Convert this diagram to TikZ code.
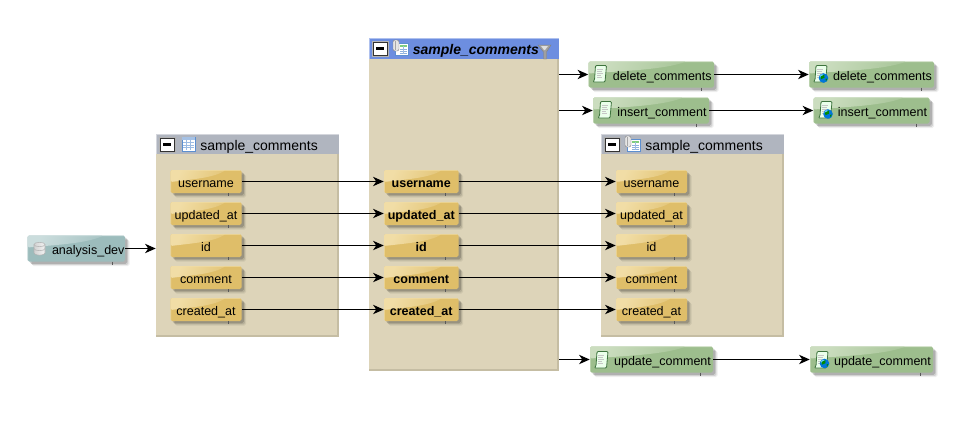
\documentclass[tikz,border=0pt]{standalone}
\usepackage{fontspec}
\setmainfont{Liberation Sans}
\usetikzlibrary{arrows.meta,shadows,calc}
\definecolor{greenc}{HTML}{9DBE8D}
\definecolor{greenl}{HTML}{CBDDBF}
\definecolor{tealc}{HTML}{9CBCBC}
\definecolor{teall}{HTML}{CBDDDD}
\definecolor{goldc}{HTML}{DFBE69}
\definecolor{goldl}{HTML}{F1DDA6}
\definecolor{tablec}{HTML}{DDD4B9}
\definecolor{tableb}{HTML}{C5BDA3}
\definecolor{headg}{HTML}{B0B5BF}
\definecolor{headb}{HTML}{6D8EE0}
\definecolor{iconb}{HTML}{5C8FD0}
\tikzset{
 softshadow/.style={
  general shadow={shadow xshift=3.4pt,shadow yshift=-3.4pt,fill=black,opacity=.07},
  general shadow={shadow xshift=2.6pt,shadow yshift=-2.6pt,fill=black,opacity=.11},
  general shadow={shadow xshift=1.7pt,shadow yshift=-1.7pt,fill=black,opacity=.16}},
 compbox/.style={rectangle,rounded corners=1.2pt,inner sep=0pt,softshadow,text height=8.7pt,text depth=0pt,font=\fontsize{9.4pt}{11pt}\selectfont,
  path picture={\shade[top color=#1l,bottom color=#1c,shading angle=65]
   (path picture bounding box.north west) -- ($(path picture bounding box.north west)!.78!(path picture bounding box.north east)$)
   .. controls ($(path picture bounding box.north west)!.6!(path picture bounding box.north east)+(0,-6pt)$) and ($(path picture bounding box.north west)!.3!(path picture bounding box.north east)+(0,-7pt)$) ..
   ($(path picture bounding box.north west)+(0,-9pt)$) -- cycle;
   \draw[#1l,line width=.9pt] (path picture bounding box.south west) -- (path picture bounding box.north west) -- (path picture bounding box.north east);},
  fill=#1c},
 tablebox/.style={rectangle,inner sep=0pt,fill=tablec},
 headbox/.style={rectangle,inner sep=0pt,text height=9.4pt,text depth=0pt,font=\fontsize{10.5pt}{12pt}\selectfont},
 conn/.style={-{Stealth[length=8pt,width=7pt,inset=2.4pt]},line width=.85pt,black},
 tick/.style={line width=.4pt,gray!70!black}
}
% name x0 y0 x1 y1 colour offset text
\newcommand{\comp}[8]{%
 \node[compbox=#6,minimum width={(#4-#2)*.75pt},minimum height={(#5-#3)*.75pt}] (#1) at ({(#2+#4)/2},{(#3+#5)/2}) {\hspace*{#7pt}#8};
 \draw[tick] ({#4-13},#5) -- ({#4-13},{#5+3});
}
\newcommand{\tabl}[9]{%
 \node[tablebox,minimum width={(#4-#2)*.75pt},minimum height={(#5-#3)*.75pt}] (#1) at ({(#2+#4)/2},{(#3+#5)/2}) {};
 \draw[tableb,line width=1.2pt] ({#4-.8},#3) -- ({#4-.8},{#5-.8}) -- (#2,{#5-.8});
 \node[headbox,fill=#6,minimum width={(#4-#2)*.75pt},minimum height={(#7)*.75pt}] (#1h) at ({(#2+#4)/2},{#3+#7/2}) {\hspace*{#8pt}#9};
 \draw[white!45!#6,line width=.8pt] ({#2+.5},{#3+#7}) -- ({#2+.5},{#3+.5}) -- (#4,{#3+.5});
}
\newcommand{\minusbox}[2]{\begin{scope}[shift={(#1,#2)}]
 \draw[gray!60,line width=.6pt,fill=white] (0,0) rectangle (16,15);
 \draw[black!80,line width=.6pt] (1,1) rectangle (15,14);
 \fill[black] (4,6.4) rectangle (12,8.6);
\end{scope}}
\newcommand{\gridicon}[2]{\begin{scope}[shift={(#1,#2)}]
 \draw[iconb,line width=.5pt,fill=white] (0,0) rectangle (13,14);
 \fill[iconb!55] (0,0) rectangle (13,3);
 \foreach \i in {5.5,8,10.5} \draw[iconb!60,line width=.4pt] (1,\i) -- (12,\i);
 \foreach \i in {4.5,8.5} \draw[iconb!60,line width=.4pt] (\i,3) -- (\i,13);
\end{scope}}
\newcommand{\viewicon}[2]{\begin{scope}[shift={(#1,#2)}]
 \begin{scope}[shift={(2,1)}]
 \draw[iconb,line width=.5pt,fill=white] (0,0) rectangle (13,12);
 \fill[green!45!gray!70] (5,2) rectangle (12,4);
 \foreach \i in {6,8,10} \draw[iconb!70,line width=.5pt] (5,\i) -- (12,\i);
 \foreach \i in {8.5} \draw[iconb!60,line width=.4pt] (\i,3) -- (\i,11);
 \end{scope}
 \draw[gray,line width=.3pt,fill=white!80!gray,rounded corners=1.5pt] (0,-2) rectangle (6,9);
 \draw[gray!70,line width=.3pt] (2,-1) -- (2,8);
\end{scope}}
\newcommand{\scrollicon}[2]{\begin{scope}[shift={(#1,#2)}]
 \draw[gray!70!green!70!black,line width=.6pt,fill=white!92!green,rounded corners=.8pt] (3,0) -- (14,0) -- (12.5,16.5) -- (0.3,16.5) -- (2,14.5) -- cycle;
 \foreach \i/\j in {4/10,6/9,8/10,10/8,12/9} \draw[gray!45,line width=.5pt] (4.3,\i) -- (\j,\i);
\end{scope}}
\newcommand{\globeicon}[2]{\begin{scope}[shift={(#1,#2)}]
 \fill[blue!45!cyan!85!black] (0,0) circle (4.8);
 \fill[blue!30!cyan!60!white] (-1.5,-1.8) circle (2);
 \fill[green!55!black] (-3,-1.5) -- (.8,-3.4) -- (1,-.3) -- (-2.5,1.2) -- cycle;
 \fill[green!55!black] (2,1) -- (3.8,.5) -- (2.6,3.2) -- cycle;
\end{scope}}
\newcommand{\dbicon}[2]{\begin{scope}[shift={(#1,#2)}]
 \shade[left color=gray!35,right color=white!90!gray,draw=gray!60,line width=.4pt] (0,2.5) -- (0,11) arc[x radius=5.5,y radius=2.2,start angle=180,end angle=0] -- (11,2.5) arc[x radius=5.5,y radius=2.2,start angle=0,end angle=-180] -- cycle;
 \draw[gray!60,line width=.4pt] (0,2.5) arc[x radius=5.5,y radius=2.2,start angle=180,end angle=0];
 \draw[gray!60,line width=.4pt] (0,6.5) arc[x radius=5.5,y radius=2.2,start angle=180,end angle=0];
\end{scope}}
\begin{document}
\begin{tikzpicture}[x=.75pt,y=-.75pt]
\useasboundingbox (0,0) rectangle (980,432);
\fill[white] (0,0) rectangle (980,432);
% tables
\tabl{tleft}{156}{134}{338.7}{336.7}{headg}{20}{17.5}{sample\_comments}
\tabl{tmid}{369}{38}{558.7}{370.7}{headb}{21}{18}{\fontsize{10.5pt}{12pt}\selectfont\bfseries\itshape sample\_comments}
\tabl{tright}{601}{134}{783.7}{336.7}{headg}{20}{17.5}{sample\_comments}
\minusbox{159}{137}\gridicon{182}{137}
\minusbox{372}{41}\viewicon{393}{42}
\minusbox{604}{137}\viewicon{625}{138}
% funnel
\fill[gray!75,draw=gray,line width=.3pt] (538,45) -- (551,45) -- (546.5,52) -- (546.5,59) -- (543.5,59) -- (543.5,52) -- cycle;
\fill[white!75!gray] (541,46) -- (548,46) -- (545,50) -- (544,50) -- cycle;
% source
\comp{src}{27.5}{235.5}{125}{261.5}{teal}{18}{analysis\_dev}
\dbicon{34}{242}
% columns
\comp{lu}{170.5}{170}{241.5}{193}{gold}{0}{username}
\comp{lv}{170.5}{202}{241.5}{225}{gold}{0}{updated\_at}
\comp{li}{170.5}{234}{241.5}{257}{gold}{0}{id}
\comp{lc}{170.5}{266}{241.5}{289}{gold}{0}{comment}
\comp{lr}{170.5}{298}{241.5}{321}{gold}{0}{created\_at}
\comp{mu}{384}{170}{458.5}{193}{gold}{0}{\bfseries username}
\comp{mv}{384}{202}{458.5}{225}{gold}{0}{\bfseries updated\_at}
\comp{mi}{384}{234}{458.5}{257}{gold}{0}{\bfseries id}
\comp{mc}{384}{266}{458.5}{289}{gold}{0}{\bfseries comment}
\comp{mr}{384}{298}{458.5}{321}{gold}{0}{\bfseries created\_at}
\comp{ru}{616}{170}{687}{193}{gold}{0}{username}
\comp{rv}{616}{202}{687}{225}{gold}{0}{updated\_at}
\comp{ri}{616}{234}{687}{257}{gold}{0}{id}
\comp{rc}{616}{266}{687}{289}{gold}{0}{comment}
\comp{rr}{616}{298}{687}{321}{gold}{0}{created\_at}
% statements
\comp{da}{588.5}{61.5}{714}{87.5}{green}{16.5}{delete\_comments}
\comp{db}{809}{61.5}{934}{87.5}{green}{16.5}{delete\_comments}
\comp{ia}{593}{97.5}{709}{123.5}{green}{16.5}{insert\_comment}
\comp{ib}{813.5}{97.5}{929.5}{123.5}{green}{16.5}{insert\_comment}
\comp{ua}{590}{346.5}{713}{372.5}{green}{16.5}{update\_comment}
\comp{ub}{810}{346.5}{933}{372.5}{green}{16.5}{update\_comment}
\scrollicon{592.5}{65.5}\scrollicon{597.5}{101.5}\scrollicon{594}{351.5}
\scrollicon{813}{65.5}\globeicon{823.5}{78}
\scrollicon{818}{101.5}\globeicon{828}{114}
\scrollicon{814}{351.5}\globeicon{824.5}{363.5}
% connectors
\draw[conn] (src.east) -- (src.east -| tleft.west);
\foreach \k in {u,v,i,c,r}{
 \draw[conn] (l\k.east) -- (m\k.west);
 \draw[conn] (m\k.east) -- (r\k.west);
}
\draw[conn] (da.west -| tmid.east) -- (da.west);
\draw[conn] (ia.west -| tmid.east) -- (ia.west);
\draw[conn] (ua.west -| tmid.east) -- (ua.west);
\draw[conn] (da.east) -- (db.west);
\draw[conn] (ia.east) -- (ib.west);
\draw[conn] (ua.east) -- (ub.west);
\end{tikzpicture}
\end{document}
